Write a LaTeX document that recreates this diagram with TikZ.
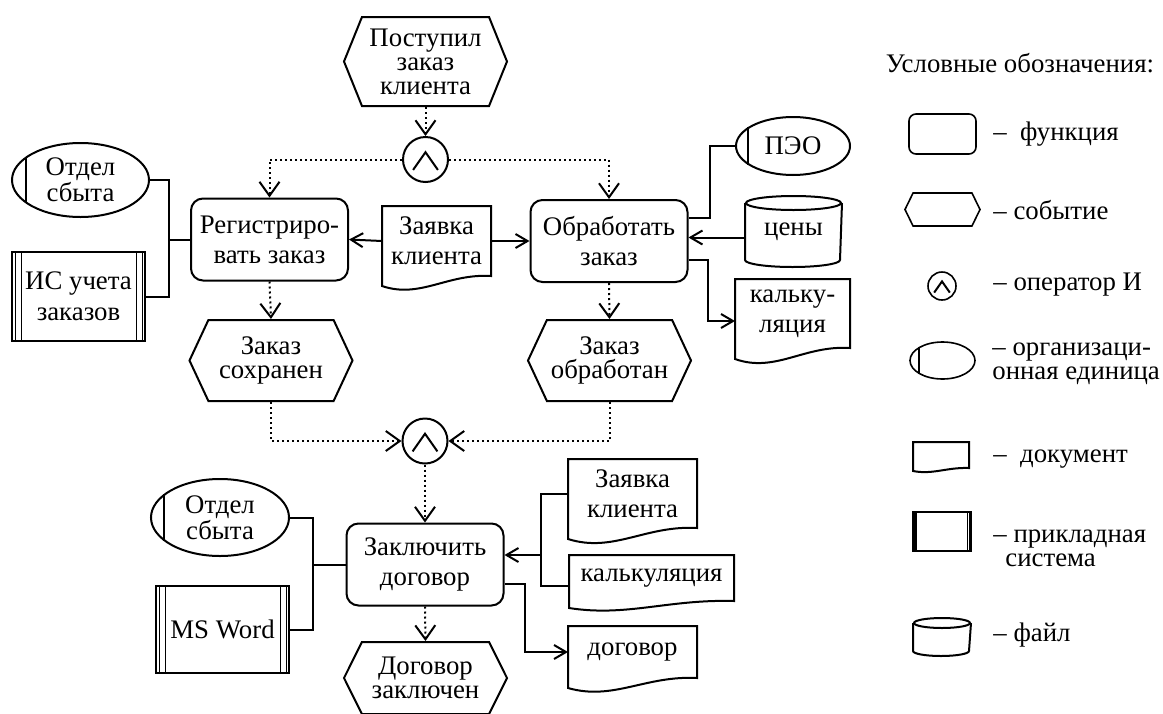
\documentclass[tikz,border=0pt]{standalone}
\usepackage{fontspec}
\setmainfont{Liberation Serif}
\usetikzlibrary{arrows.meta, calc, shapes.geometric, shapes.symbols}

\tikzset{
    box/.style={line width=1pt, inner sep=0pt, align=center},
    func/.style={box, draw, rectangle, rounded corners=6pt,
        minimum width=78.5pt, minimum height=41pt},
    event/.style={box, draw, signal, signal to=west and east,
        minimum width=81.5pt, font=\fontsize{13.4pt}{12pt}\selectfont},
    andop/.style={box, draw, circle, minimum size=22.5pt},
    org/.style={box, draw, ellipse, font=\fontsize{13.4pt}{12pt}\selectfont},
    app/.style={box, draw, rectangle, font=\fontsize{13.4pt}{15.5pt}\selectfont},
    doc/.style={box, rectangle},
    file/.style={box, rectangle},
    lg/.style={line width=0.8pt},
    link/.style={line width=1pt},
    thin line/.style={line width=0.5pt},
    arr/.style={link, -{Straight Barb[length=6pt, width=7pt]}},
    flow/.style={line width=1pt, dash pattern=on 1pt off 1.5pt,
        -{Straight Barb[length=7pt, width=10pt]}},
    legend/.style={anchor=west, align=left, inner sep=0pt}
}

\begin{document}
\begin{tikzpicture}[x=0.5pt, y=-0.5pt, font=\fontsize{13.4pt}{15pt}\selectfont]
    \useasboundingbox (0,0) rectangle (1163,713);

    % functions
    \node[func] (reg) at (269.5,239.5) {Регистриро-\\вать заказ};
    \node[func] (proc) at (609,241) {Обработать\\заказ};
    \node[func] (ctr) at (425,564.5) {Заключить\\договор};

    % events
    \node[event, minimum height=44.5pt, signal pointer angle=136] (evin)
        at (425.5,61.5) {Поступил\\заказ\\клиента};
    \node[event, minimum height=40.5pt, signal pointer angle=130] (evreg)
        at (271,360.5) {Заказ\\сохранен};
    \node[event, minimum height=40.5pt, signal pointer angle=130] (evproc)
        at (609.5,360.5) {Заказ\\обработан};
    \node[event, minimum height=36pt, signal pointer angle=127] (evend)
        at (425.5,678) {Договор\\заключен};

    % AND operators
    \node[andop] (and1) at (425.5,159.5) {};
    \node[andop] (and2) at (425,441) {};

    % org units
    \node[org, minimum width=68.5pt, minimum height=37pt] (org1) at (80.5,180) {Отдел\\сбыта};
    \node[org, minimum width=69pt, minimum height=38.5pt] (org2) at (220,517.5) {Отдел\\сбыта};
    \node[org, minimum width=57pt, minimum height=29pt] (peo) at (793,146) {ПЭО};

    % application systems
    \node[app, minimum width=66.5pt, minimum height=44.5pt] (is) at (78.5,296.5) {ИС учета\\заказов};
    \node[app, minimum width=66.5pt, minimum height=43.5pt] (word) at (222.5,629.5) {MS Word};

    % documents and the price file
    \node[doc, minimum width=53.5pt, minimum height=34pt] (req) at (436.5,241) {Заявка\\клиента};
    \node[doc, minimum width=56.5pt, minimum height=33.5pt] (calc1) at (792.5,313.5) {кальку-\\ляция};
    \node[doc, minimum width=63.5pt, minimum height=33.5pt] (req2) at (632.5,493.5) {Заявка\\клиента};
    \node[doc, minimum width=81.5pt, minimum height=22pt] (calc2) at (651.5,578) {калькуляция};
    \node[doc, minimum width=63.5pt, minimum height=25pt] (ctdoc) at (632.5,652) {договор};
    \node[file, minimum width=47.5pt, minimum height=27.5pt] (price) at (793.5,231.5) {\raisebox{-3pt}{цены}};

    % legend
    \node (lgtitle) at (1020,63) {Условные обозначения:};
    \node[func, lg, minimum width=33.5pt, minimum height=20pt, rounded corners=3.5pt] (lgfunc) at (942.5,134) {};
    \node[event, lg, minimum width=37.5pt, minimum height=16.5pt, signal pointer angle=128] (lgev) at (942.5,209.5) {};
    \node[andop, lg, minimum size=14pt] (lgand) at (942,286) {};
    \node[org, lg, minimum width=32.5pt, minimum height=18.5pt] (lgorg) at (942.5,360.5) {};
    \node[doc, minimum width=27pt, minimum height=12pt] (lgdoc) at (941,455) {};
    \node[app, lg, minimum width=29pt, minimum height=19.5pt] (lgapp) at (942,531.5) {};
    \node[file, minimum width=28pt, minimum height=13pt] (lgfile) at (942,637) {};

    \node[legend] (lt1) at (993,134) {–\ \ функция};
    \node[legend] (lt2) at (993,210) {– событие};
    \node[legend] (lt3) at (993,285) {– оператор И};
    \node[legend, font=\fontsize{13.4pt}{12pt}\selectfont] (lt4) at (992,364) {– организаци-\\онная единица};
    \node[legend] (lt5) at (993,459) {–\ \ документ};
    \node[legend, font=\fontsize{13.4pt}{12pt}\selectfont] (lt6) at (993,548.5) {– прикладная\\\hspace{6pt}система};
    \node[legend] (lt7) at (993,635) {– файл};

    % wavy document outlines
    \foreach \d/\h in {req/10, calc1/11, req2/11, calc2/7, ctdoc/10, lgdoc/3}
        \draw[link] ($(\d.south west)+(0,\h)$) -- (\d.north west) -- (\d.north east) -- (\d.south east)
            .. controls ($(\d.south west)!0.6!(\d.south east)+(0,{-0.27*\h})$)
            and ($(\d.south west)!0.35!(\d.south east)+(0,{2.3*\h})$)
            .. ($(\d.south west)+(0,\h)$) -- cycle;

    % cylinders
    \foreach \c/\w/\r in {price/23.75pt/3.5pt, lgfile/14pt/2.5pt} {
        \draw[link] (\c.north west) -- (\c.south west)
            arc[start angle=180, end angle=360, x radius=\w, y radius=\r] -- (\c.north east);
        \draw[link] (\c.north) ellipse[x radius=\w, y radius=\r];
    }

    % wedge inside the AND circles
    \foreach \o in {and1, and2, lgand}
        \draw[link] ($(\o.center)!0.69!(\o.220)$) -- ($(\o.center)!0.31!(\o.north)$)
            -- ($(\o.center)!0.69!(\o.320)$);

    % stroke at the left of the org units
    \foreach \o/\a/\b in {org1/157/203, org2/157/203, peo/157/203, lgorg/149/211}
        \draw[link] (\o.\a) -- (\o.\b);

    % side lines of the application systems
    \foreach \a in {is, word}
        \foreach \s in {2pt, 5pt} {
            \draw[thin line] ([xshift=\s]\a.north west) -- ([xshift=\s]\a.south west);
            \draw[thin line] ([xshift=-\s]\a.north east) -- ([xshift=-\s]\a.south east);
        }
    \fill (lgapp.north west) rectangle ([xshift=2.5pt]lgapp.south west);
    \foreach \s in {1pt, 2pt}
        \draw[line width=0.4pt] ([xshift=-\s]lgapp.north east) -- ([xshift=-\s]lgapp.south east);

    % control flow
    \draw[flow] (evin.south) -- (and1.north);
    \draw[flow] (and1.west) -| (reg.north);
    \draw[flow] (and1.east) -| (proc.north);
    \draw[flow] (reg.south) -- (evreg.north);
    \draw[flow] (proc.south) -- (evproc.north);
    \draw[flow] (evreg.south) |- (and2.west);
    \draw[flow] (evproc.south) |- (and2.east);
    \draw[flow] (and2.south) -- (ctr.north);
    \draw[flow] (ctr.south) -- (evend.north);

    % org units and systems
    \coordinate (j1) at (169,239.5);
    \draw[link] (org1.east) -| (j1) |- (is.east);
    \draw[link] (j1) -- (reg.west);
    \coordinate (j2) at (313,564.5);
    \draw[link] (org2.east) -| (j2) |- (word.east);
    \draw[link] (j2) -- (ctr.west);
    \coordinate (p1) at (710,218);
    \draw[link] (peo.west) -| (p1) -- (p1 -| proc.east);

    % data in and out
    \draw[arr] (req.west) -- (reg.east);
    \draw[arr] (req.east) -- (req.east -| proc.west);
    \coordinate (pin) at ([yshift=-3pt]price.west);
    \draw[arr] (pin) -- (pin -| proc.east);
    \coordinate (p2) at (708,260);
    \draw[arr] (p2 -| proc.east) -- (p2) |- ([yshift=-3.75pt]calc1.west);
    \coordinate (j3) at (541,555);
    \draw[link] (req2.west) -| (j3) |- ([yshift=-4pt]calc2.west);
    \draw[arr] (j3) -- (j3 -| ctr.east);
    \coordinate (j4) at (525,584);
    \draw[arr] (j4 -| ctr.east) -- (j4) |- (ctdoc.west);
\end{tikzpicture}
\end{document}
